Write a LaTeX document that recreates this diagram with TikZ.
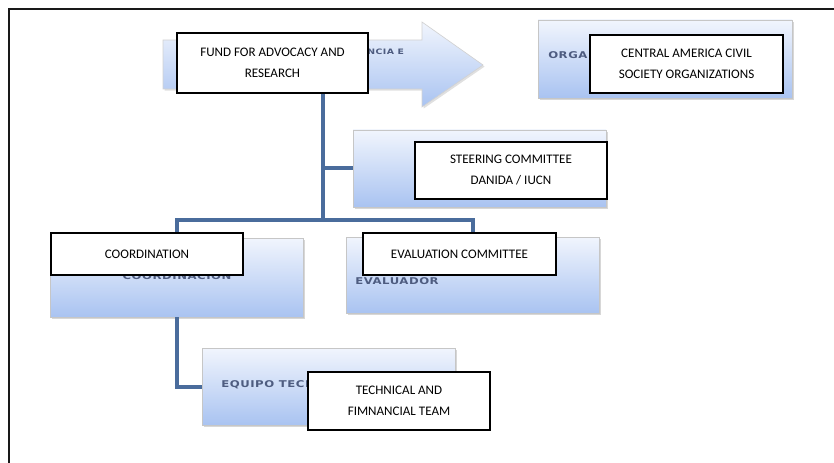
\documentclass[tikz,border=0pt]{standalone}
\usepackage{fontspec}
\setmainfont{Carlito}
\newfontfamily\hidfont[FakeStretch=1.25, LetterSpace=6]{DejaVu Sans}
\usetikzlibrary{shadows}
\definecolor{linkblue}{HTML}{4A6C9C}
\definecolor{bgtop}{HTML}{F1F5FD}
\definecolor{bgbot}{HTML}{A9C3F1}
\definecolor{hidtext}{HTML}{4E5C80}
\tikzset{
  bgbox/.style={draw=gray!45, line width=0.6pt, top color=bgtop, bottom color=bgbot,
    inner sep=0pt, drop shadow={shadow xshift=1.2pt, shadow yshift=-1.2pt, fill=gray!45, opacity=0.7}},
  frontbox/.style={draw=black, line width=1.1pt, fill=white, inner sep=0pt, align=center,
    font=\fontsize{9.8pt}{15.75pt}\selectfont},
  hidden/.style={font=\hidfont\bfseries\fontsize{7pt}{8pt}\selectfont, text=hidtext, inner sep=0pt},
  link/.style={draw=linkblue, line width=3pt},
  framepen/.style={draw=black!90, line width=1.8pt}
}
\begin{document}
\begin{tikzpicture}[x=0.75pt, y=-0.75pt]
\useasboundingbox (0,0) rectangle (834,463);
% frame
\coordinate (ftl) at (9,9);
\coordinate (ftr) at (834,9);
\coordinate (fbl) at (9,463);
\draw[framepen] (ftr) -- (ftl) -- (fbl);

% arrow
\shade[top color=bgtop, bottom color=bgbot, draw=gray!35, line width=0.5pt,
  drop shadow={shadow xshift=1.2pt, shadow yshift=-1.2pt, fill=gray!40, opacity=0.6}]
  (163,40) -- (422,40) -- (422,22) -- (483,65) -- (422,107) -- (422,89) -- (163,89) -- cycle;
\node[hidden, anchor=west, font=\hidfont\bfseries\fontsize{5.6pt}{7pt}\selectfont] (arrtxt) at (367,52) {NCIA E};

% background boxes
\node[bgbox, minimum width=190.5pt, minimum height=58.5pt] (cambg) at (665,59) {};
\node[hidden, anchor=west] (camtxt) at (548,55) {ORGA};
\node[bgbox, minimum width=189.75pt, minimum height=57.75pt] (steerbg) at (479.5,168.5) {};
\node[bgbox, minimum width=189.75pt, minimum height=59.25pt] (coordbg) at (176.5,277.5) {};
\node[hidden] (coordtxt) at (177,276.5) {COORDINACION};
\node[bgbox, minimum width=189.75pt, minimum height=57pt] (evalbg) at (472.5,275) {};
\node[hidden, anchor=west] (evaltxt) at (355,281) {EVALUADOR};
\node[bgbox, minimum width=189.75pt, minimum height=57.75pt] (techbg) at (328.5,386.5) {};
\node[hidden, anchor=west] (techtxt) at (221,385) {EQUIPO TECN};

% connectors
\coordinate (j0) at (323,168.5);
\coordinate (j1) at (323,220);
\node[frontbox, minimum width=143.25pt, minimum height=45pt] (fund) at (272.5,63) {};
\draw[link] (fund.south -| j1) -- (j1);
\draw[link] (j0) -- (steerbg.west);
\draw[link] (coordbg.north) |- (j1) -| (evalbg.north);
\draw[link] (coordbg.south) |- (techbg.west);

% front boxes
\node[frontbox, minimum width=143.25pt, minimum height=45pt] (fund) at (272.5,63) {FUND FOR ADVOCACY AND\\RESEARCH};
\node[frontbox, minimum width=144.75pt, minimum height=43.5pt] (cam) at (686.5,64) {CENTRAL AMERICA CIVIL\\SOCIETY ORGANIZATIONS};
\node[frontbox, minimum width=144pt, minimum height=42.75pt] (steer) at (511,170.5) {STEERING COMMITTEE\\DANIDA / IUCN};
\node[frontbox, minimum width=144pt, minimum height=31.5pt] (coord) at (147,254) {COORDINATION};
\node[frontbox, minimum width=144.75pt, minimum height=31.5pt] (eval) at (459.5,254) {EVALUATION COMMITTEE};
\node[frontbox, minimum width=136.5pt, minimum height=43.5pt] (tech) at (399,401) {TECHNICAL AND\\FIMNANCIAL TEAM};
\end{tikzpicture}
\end{document}
